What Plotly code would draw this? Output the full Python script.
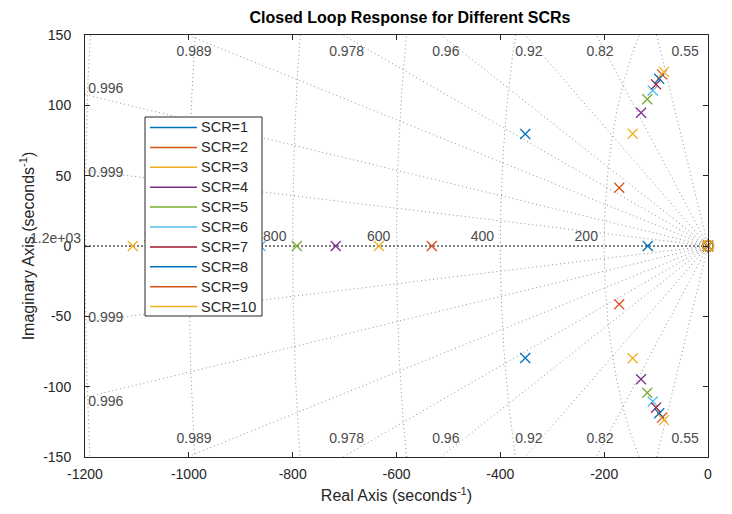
import numpy as np
import plotly.graph_objects as go

# ---------------- data ----------------
scr_names = ["SCR=1", "SCR=2", "SCR=3", "SCR=4", "SCR=5",
             "SCR=6", "SCR=7", "SCR=8", "SCR=9", "SCR=10"]
colors = ["#0072BD", "#D95319", "#EDB120", "#7E2F8E", "#77AC30",
          "#4DBEEE", "#A2142F", "#0072BD", "#D95319", "#EDB120"]
# real-axis pole of each closed loop
real_pole = [-116, -532, -634, -717, -792, -862, -921, -979, -1040, -1108]
# complex-pair poles (real part, +/- imaginary part)
cplx_re = [-352, -171, -145, -129, -117, -106.5, -100, -94, -88.6, -84.8]
cplx_im = [79.6, 41.4, 79.8, 94.7, 104.3, 110.6, 114.9, 118.9, 122.0, 123.8]
# pole and zero at the origin
origin_pole = [0.0] * 10
origin_zero = [0.0] * 10

# grid (sgrid) values
zeta_vals = [0.55, 0.82, 0.92, 0.96, 0.978, 0.989, 0.996, 0.999]
zeta_top_text = ["0.55", "0.82", "0.92", "0.96", "0.978", "0.989"]
zeta_top_x = [-44, -208, -345, -505, -696, -990]
zeta_top_y = 137.5
zeta_side_text = ["0.996", "0.999"]
zeta_side_x = [-1160, -1160]
zeta_side_y = [111, 51.5]
wn_vals = [200, 400, 600, 800, 1000, 1200]
wn_text = ["200", "400", "600", "800", "1e+03", "1.2e+03"]
wn_text_y = 5.8

x_ticks = [-1200, -1000, -800, -600, -400, -200, 0]
y_ticks = [-150, -100, -50, 0, 50, 100, 150]

FONT = "Liberation Sans, Arial, Helvetica, sans-serif"
GRID = "#8f8f8f"
TXT = "#262626"
LBL = "#4a4a4a"

# page offset of the figure (default body margin of the html page)
OFF = 8
W, H = 732 - OFF, 514 - OFF
PL, PR, PT, PB = 85, 708, 35, 457   # plot area in page pixels


def px2x(p):
    return (p - PL) / (PR - PL)


def py2y(p):
    return (PB - p) / (PB - PT)


fig = go.Figure()

# damping lines
gx, gy = [], []
for z in zeta_vals:
    t = np.sqrt(1 - z * z) / z
    for s in (1, -1):
        gx += [0, -1300, None]
        gy += [0, s * 1300 * t, None]
fig.add_trace(go.Scatter(x=gx, y=gy, mode="lines", showlegend=False, hoverinfo="skip",
                         line=dict(color=GRID, width=1, dash="1px,3px")))
# natural frequency arcs
th = np.linspace(-np.pi / 2, np.pi / 2, 400)
ax_, ay_ = [], []
for w in wn_vals:
    ax_ += list(-w * np.cos(th)) + [None]
    ay_ += list(w * np.sin(th)) + [None]
fig.add_trace(go.Scatter(x=ax_, y=ay_, mode="lines", showlegend=False, hoverinfo="skip",
                         line=dict(color=GRID, width=1, dash="1px,3px")))
# real axis line
fig.add_trace(go.Scatter(x=[x_ticks[0], 0], y=[0, 0], mode="lines", showlegend=False,
                         hoverinfo="skip", line=dict(color="#000000", width=1, dash="2px,2px")))

# grid labels
fig.add_trace(go.Scatter(
    x=zeta_top_x + zeta_top_x + zeta_side_x + zeta_side_x,
    y=[zeta_top_y] * len(zeta_top_x) + [-zeta_top_y] * len(zeta_top_x)
      + zeta_side_y + [-v for v in zeta_side_y],
    text=zeta_top_text + zeta_top_text + zeta_side_text + zeta_side_text,
    mode="text", textposition="middle center", showlegend=False, hoverinfo="skip",
    cliponaxis=False, textfont=dict(family=FONT, size=14, color=LBL)))
# natural-frequency labels inside the axes (the one at the very edge is an annotation below)
fig.add_trace(go.Scatter(
    x=[-w - 12 for w in wn_vals[:-1]], y=[wn_text_y] * (len(wn_vals) - 1), text=wn_text[:-1],
    mode="text", textposition="middle left", showlegend=False, hoverinfo="skip",
    cliponaxis=False, textfont=dict(family=FONT, size=14, color=LBL)))

# poles / zeros
for i in range(10):
    px = [real_pole[i], cplx_re[i], cplx_re[i], origin_pole[i]]
    py = [0, cplx_im[i], -cplx_im[i], 0]
    fig.add_trace(go.Scatter(x=px, y=py, mode="markers", name=scr_names[i], showlegend=False,
                             hoverinfo="skip", cliponaxis=False,
                             marker=dict(symbol="x-thin-open", size=10, color=colors[i],
                                         line=dict(color=colors[i], width=1.3))))
    fig.add_trace(go.Scatter(x=[origin_zero[i]], y=[0], mode="markers", showlegend=False,
                             hoverinfo="skip", cliponaxis=False,
                             marker=dict(symbol="circle-open", size=11, color=colors[i],
                                         line=dict(color=colors[i], width=1.3))))

# legend box (drawn above the plot, like the MATLAB legend)
LX0, LX1, LY0, LY1 = 145, 262, 117, 316
shapes = [dict(type="rect", xref="paper", yref="paper", layer="above",
               x0=px2x(LX0), x1=px2x(LX1), y0=py2y(LY1), y1=py2y(LY0),
               fillcolor="white", line=dict(color=TXT, width=1))]
annotations = [dict(xref="x", yref="y", x=-wn_vals[-1], y=wn_text_y, xanchor="right",
                    yanchor="middle", xshift=-2, text=wn_text[-1], showarrow=False,
                    font=dict(family=FONT, size=14, color=LBL))]
for i, name in enumerate(scr_names):
    yy = py2y(LY0 + 10.5 + 19.9 * i)
    shapes.append(dict(type="line", xref="paper", yref="paper", layer="above",
                       x0=px2x(150), x1=px2x(197), y0=yy, y1=yy,
                       line=dict(color=colors[i], width=1.5)))
    annotations.append(dict(xref="paper", yref="paper", x=px2x(199), y=yy,
                            xanchor="left", yanchor="middle", text=name, showarrow=False,
                            font=dict(family=FONT, size=14.5, color=TXT)))

fig.update_layout(
    width=W, height=H,
    margin=dict(l=PL - OFF, r=732 - PR, t=PT - OFF, b=514 - PB),
    paper_bgcolor="white", plot_bgcolor="white",
    font=dict(family=FONT, size=14, color=TXT),
    title=dict(text="<b>Closed Loop Response for Different SCRs</b>",
               x=(410 - OFF) / W, xanchor="center", y=1 - (17 - OFF) / H, yanchor="middle",
               font=dict(family=FONT, size=16, color="#000000")),
    shapes=shapes, annotations=annotations,
    showlegend=False,
)
fig.update_xaxes(range=[-1200, 0], tickvals=x_ticks, ticktext=[str(v) for v in x_ticks],
                 ticks="inside", ticklen=5, tickcolor=TXT, showline=True, linecolor=TXT,
                 linewidth=1, mirror="ticks", showgrid=False, zeroline=False,
                 ticklabelstandoff=4, tickfont=dict(size=14, color=TXT),
                 title=dict(text="Real Axis (seconds<sup>-1</sup>)", standoff=9,
                            font=dict(size=16, color=TXT)))
fig.update_yaxes(range=[-150, 150], tickvals=y_ticks, ticktext=[str(v) for v in y_ticks],
                 ticks="inside", ticklen=5, tickcolor=TXT, showline=True, linecolor=TXT,
                 linewidth=1, mirror="ticks", showgrid=False, zeroline=False,
                 ticklabelstandoff=10, tickfont=dict(size=14, color=TXT),
                 title=dict(text="Imaginary Axis (seconds<sup>-1</sup>)", standoff=4,
                            font=dict(size=16, color=TXT)))

fig.write_html("out.html")
